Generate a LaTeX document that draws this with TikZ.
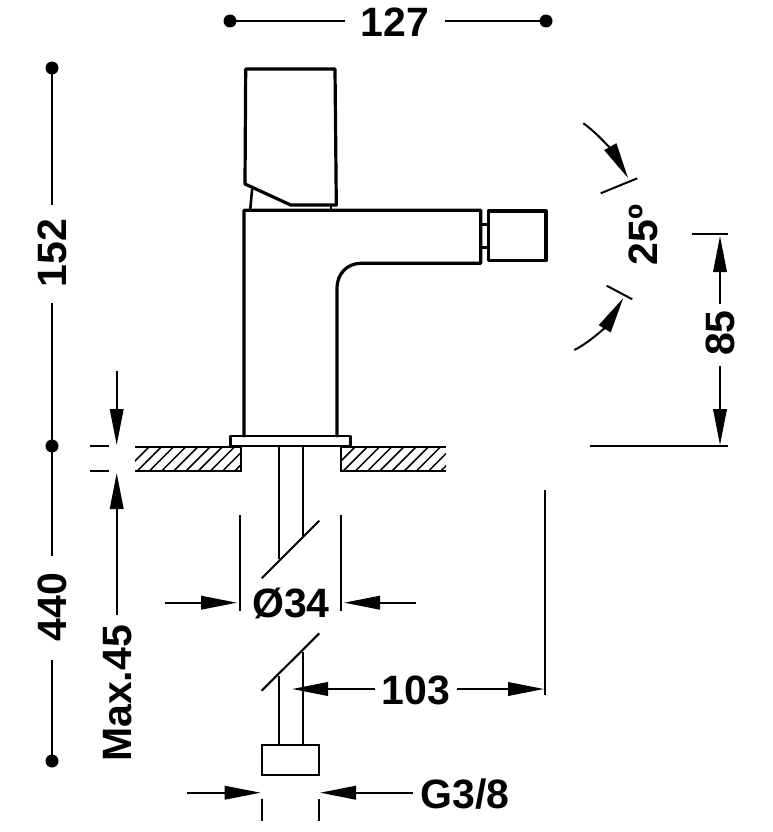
\documentclass[tikz,border=0pt]{standalone}
\usepackage{fontspec}
\setmainfont{Liberation Sans}
\usetikzlibrary{arrows.meta,patterns}
\tikzset{
  thick line/.style={line width=3.2pt,line join=round,line cap=round},
  thin line/.style={line width=2.1pt},
  dim/.style={line width=2pt,-{Triangle[length=36pt,width=13.5pt]}},
  dimline/.style={line width=2pt},
  hatchline/.style={line width=1.5pt},
  dimtext/.style={font=\fontsize{41}{41}\selectfont\bfseries,inner sep=0pt,text=black},
  dimdot/.style={circle,fill=black,inner sep=0pt,minimum size=13pt},
}
\begin{document}
\begin{tikzpicture}[x=1pt,y=-1pt]
\useasboundingbox (0,0) rectangle (773,832);
\fill[white] (0,0) rectangle (773,832);
% faucet
\draw[thick line] (245.7,69) -- (335,69) -- (336.3,205) -- (290.7,205) -- (245,184) -- cycle;
\draw[thick line,line width=2.6pt] (252,190) -- (250.3,209);
\draw[thick line,line width=2.4pt] (330.7,205) -- (330.7,209);
\draw[thick line] (244,436) -- (244,210.3) -- (480.7,210.3) -- (480.7,263.3) -- (361,263.3)
  .. controls (347,263.3) and (337,274) .. (337,288) -- (337,436);
\draw[thick line] (488.3,211) rectangle (546,260.7);
\draw[thick line,line width=2.6pt] (480.7,224.3) -- (488.3,224.3) (480.7,247.3) -- (488.3,247.3);
\draw[thick line,line width=2.8pt] (230.7,436) rectangle (350.7,446);
% counter
\begin{scope}
\clip (135,446.7) rectangle (240.7,471);
\foreach \i in {0,...,11} \draw[hatchline] (120+\i*12.2,476) -- (120+\i*12.2+34,442);
\end{scope}
\begin{scope}
\clip (340.7,446.7) rectangle (446,471);
\foreach \i in {0,...,11} \draw[hatchline] (326+\i*12.2,476) -- (326+\i*12.2+34,442);
\end{scope}
\draw[thin line] (135,446.7) -- (240.7,446.7) -- (240.7,471) -- (135,471);
\draw[thin line] (446,446.7) -- (340.7,446.7) -- (340.7,471) -- (446,471);
% pipe
\draw[thin line] (279,446) -- (279,559) (302.7,446) -- (302.7,536);
\draw[thin line] (261.7,578.3) -- (319.3,520.7);
\draw[thin line] (261.7,690.7) -- (319.3,633.3);
\draw[thin line] (279,676) -- (279,745) (302.7,651.7) -- (302.7,745);
\draw[thin line] (262,745) rectangle (319.3,775.3);
% labels
\node[dimtext] (w) at (395,22) {127};
\node[dimtext,rotate=90] (h1) at (52.5,253) {152};
\node[dimtext,rotate=90] (h2) at (52.5,607) {440};
\node[dimtext,rotate=90] (mx) at (118,693.5) {Max.45};
\node[dimtext] (dia) at (291,603) {Ø34};
\node[dimtext] (reach) at (416,690) {103};
\node[dimtext] (thr) at (465,794) {G3/8};
\node[dimtext,rotate=90] (ang) at (643,235) {25º};
\node[dimtext,rotate=90] (ht) at (720.5,333) {85};
% dots
\node[dimdot] (d1) at (230,21) {};
\node[dimdot] (d2) at (546,21) {};
\node[dimdot] (d3) at (52,68) {};
\node[dimdot] (d4) at (52,446) {};
\node[dimdot] (d5) at (52,761) {};
% dimension lines
\draw[dimline] (d1.center) -- (345,21) (445,21) -- (d2.center);
\draw[dimline] (d3.center) -- (52,205) (52,303) -- (d4.center);
\draw[dimline] (d4.center) -- (52,556) (52,660) -- (d5.center);
% max.45
\draw[dim] (116.7,371) -- (116.7,445);
\draw[dim] (116.7,615) -- (116.7,473);
\draw[dimline] (90,446) -- (109,446) (90,471) -- (109,471);
% dia
\draw[dimline] (240.3,515) -- (240.3,611) (340.7,515) -- (340.7,611);
\draw[dim] (165,602.7) -- (237,602.7);
\draw[dim] (416,602.7) -- (344,602.7);
% 103
\draw[dimline] (545,490) -- (545,695);
\draw[dim] (375,689) -- (292,689);
\draw[dim] (457,689) -- (544,689);
% G3/8
\draw[dim] (186.7,792.7) -- (260.7,792.7);
\draw[dim] (412.7,792.7) -- (320,792.7);
\draw[dimline] (262.3,799.3) -- (262.3,821) (319,799.3) -- (319,821);
% angle
\draw[dim] (583.3,123.3) .. controls (600,135) and (615,155) .. (628,178);
\draw[dimline] (600.7,193.3) -- (637.3,178.3);
\draw[dim] (574.3,350) .. controls (592,341) and (607,325) .. (623.3,298);
\draw[dimline] (606.7,285.7) -- (632.3,299.3);
% 85
\draw[dimline] (691.7,234) -- (728.3,234);
\draw[dimline] (590,446) -- (728.3,446);
\draw[dim] (720,304) -- (720,236);
\draw[dim] (720,366) -- (720,445);
\end{tikzpicture}
\end{document}
